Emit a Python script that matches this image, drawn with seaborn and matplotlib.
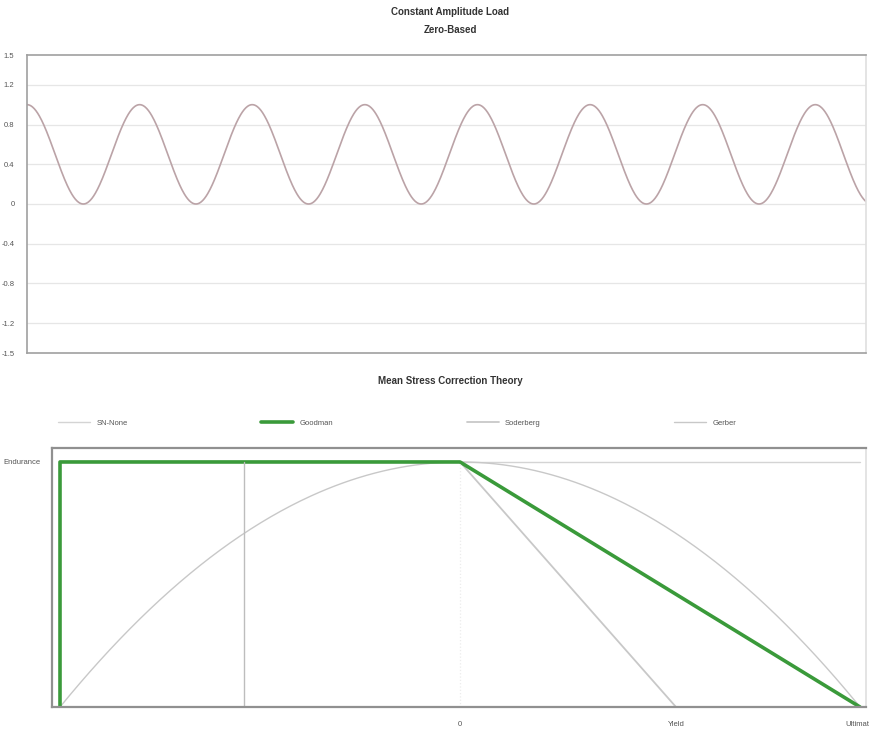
import numpy as np
import pandas as pd
import matplotlib
matplotlib.use("Agg")
import matplotlib.pyplot as plt
import seaborn as sns

sns.set_theme(style="white")
plt.rcParams['font.family'] = ['Liberation Sans Narrow', 'Liberation Sans', 'DejaVu Sans']

# ---- data: constant amplitude load (zero-based) ----
load_mean = 0.5
load_amplitude = 0.5
load_cycles = 7.45
load_yticks = [-1.5, -1.2, -0.8, -0.4, 0, 0.4, 0.8, 1.2, 1.5]
load_yticklabels = ["-1.5", "-1.2", "-0.8", "-0.4", "0", "0.4", "0.8", "1.2", "1.5"]

# ---- data: mean stress correction ----
endurance = 1.0
ultimate = 1.0
yield_strength = 0.54
legend_names = ["SN-None", "Goodman", "Soderberg", "Gerber"]
x_tick_names = ["0", "Yield", "Ultimate"]

t = np.linspace(0, load_cycles, 1500)
load_df = pd.DataFrame({"t": t, "v": load_mean + load_amplitude * np.cos(2 * np.pi * t)})

fig = plt.figure(figsize=(8.69, 7.36), dpi=100)
W, H = 869, 736

def ax_rect(x0, y0, x1, y1):
    return [x0 / W, 1 - y1 / H, (x1 - x0) / W, (y1 - y0) / H]

# ---------- top chart ----------
ax1 = fig.add_axes(ax_rect(27, 55, 866, 353))
sns.lineplot(data=load_df, x="t", y="v", ax=ax1, color="#bba3a7", lw=1.2,
             estimator=None)
ax1.set_xlim(0, load_cycles)
ax1.set_ylim(-1.5, 1.5)
ax1.set_yticks(load_yticks)
ax1.set_yticklabels(load_yticklabels)
ax1.set_xticks([])
ax1.set_xlabel("")
ax1.set_ylabel("")
for y in load_yticks[1:-1]:
    ax1.axhline(y, color="#e6e6e6", lw=0.9, zorder=0)
for s in ["left", "bottom", "top"]:
    ax1.spines[s].set_color("#a0a0a0")
    ax1.spines[s].set_linewidth(1.2)
ax1.spines["right"].set_color("#e0e0e0")
ax1.tick_params(axis="y", labelsize=5.5, colors="#555555", length=0, pad=9)
fig.text(450 / W, 1 - 12 / H, "Constant Amplitude Load", ha="center", va="center",
         fontsize=7, fontweight="bold", color="#333333")
fig.text(450 / W, 1 - 30 / H, "Zero-Based", ha="center", va="center",
         fontsize=7, fontweight="bold", color="#333333")

# ---------- bottom chart ----------
ax2 = fig.add_axes(ax_rect(52, 448, 866, 707))
xg = np.linspace(-ultimate, ultimate, 400)
sn_df = pd.DataFrame({"x": [-ultimate, ultimate], "y": [endurance, endurance]})
good_df = pd.DataFrame({"x": [-ultimate, -ultimate, 0, ultimate],
                        "y": [0, endurance, endurance, 0]})
sod_df = pd.DataFrame({"x": [0, yield_strength], "y": [endurance, 0]})
ger_df = pd.DataFrame({"x": xg, "y": endurance * (1 - (xg / ultimate) ** 2)})

kw = dict(ax=ax2, sort=False, estimator=None)
sns.lineplot(data=sn_df, x="x", y="y", color="#d4d4d4", lw=1.0,
             label=legend_names[0], **kw)
sns.lineplot(data=ger_df, x="x", y="y", color="#c8c8c8", lw=1.0,
             label=legend_names[3], **kw)
sns.lineplot(data=sod_df, x="x", y="y", color="#c8c8c8", lw=1.3,
             label=legend_names[2], **kw)
sns.lineplot(data=good_df, x="x", y="y", color="#3a9a3a", lw=2.6,
             label=legend_names[1], **kw)
ax2.plot([-yield_strength, -yield_strength], [0, endurance], color="#bdbdbd", lw=1.0)
ax2.plot([0, 0], [0, endurance], color="#ececec", lw=0.9, ls=":")

ax2.set_xlim(-1.02, 1.015)
ax2.set_ylim(0, 1.057)
ax2.set_xticks([0, yield_strength, ultimate])
ax2.set_xticklabels(x_tick_names)
ax2.set_yticks([endurance])
ax2.set_yticklabels(["Endurance"])
ax2.set_xlabel("")
ax2.set_ylabel("")
for s in ["left", "bottom", "top"]:
    ax2.spines[s].set_color("#909090")
    ax2.spines[s].set_linewidth(1.6)
ax2.spines["right"].set_color("#e0e0e0")
ax2.tick_params(axis="both", labelsize=5.5, colors="#555555", length=0)
ax2.tick_params(axis="x", pad=10)
ax2.tick_params(axis="y", pad=8)

handles, labels = ax2.get_legend_handles_labels()
order = [labels.index(n) for n in legend_names]
ax2.legend([handles[i] for i in order], [labels[i] for i in order],
           loc="center", bbox_to_anchor=(0.424, 1 + 25 / 259), ncol=4, frameon=False,
           fontsize=5.5, handlelength=4.2, columnspacing=17.5, labelcolor="#555555")
fig.text(450 / W, 1 - 381 / H, "Mean Stress Correction Theory", ha="center",
         va="center", fontsize=7, fontweight="bold", color="#333333")

fig.savefig("out.png", dpi=100)
